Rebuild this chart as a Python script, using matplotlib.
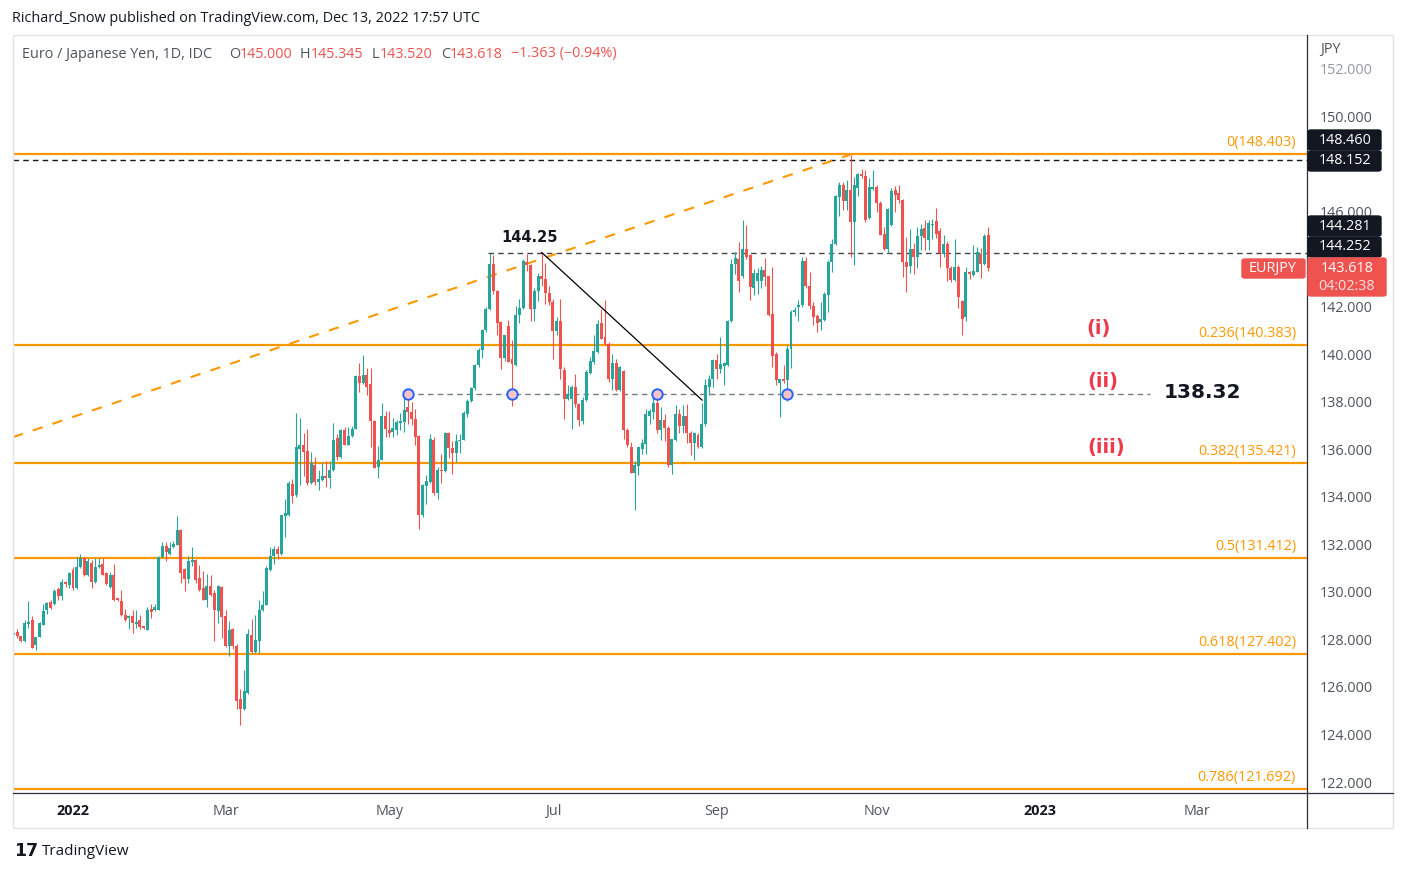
import numpy as np
import pandas as pd
import matplotlib
matplotlib.use('Agg')
import matplotlib.pyplot as plt
from matplotlib.patches import Rectangle, FancyBboxPatch

plt.rcParams['font.family'] = ['Open Sans', 'DejaVu Sans']

# EURJPY daily candles, 10 Dec 2021 -> 13 Dec 2022
first_day = '2021-12-10'

opens = [
    # Dec 2021
    128.20, 128.33, 128.13, 127.92, 128.66, 128.83, 127.75, 128.12, 128.62, 129.22, 129.58, 129.49, 130.14, 129.81, 130.43, 130.30,
    # Jan 2022
    130.94, 130.15, 131.05, 131.41, 130.70, 131.22, 130.40, 131.03, 131.19, 130.81, 130.19, 130.72, 129.74, 129.63, 129.03, 128.89, 128.99, 128.65, 128.83, 128.55, 128.41,
    # Feb
    129.29, 129.22, 129.25, 131.47, 131.95, 131.61, 131.87, 131.97, 132.59, 130.95, 130.54, 131.24, 131.35, 130.57, 130.15, 129.68, 130.23, 129.95, 129.18, 130.19,
    # Mar
    128.97, 127.71, 128.42, 127.71, 125.48, 125.09, 125.75, 128.17, 127.47, 127.93, 129.22, 129.47, 130.91, 131.49, 131.79, 131.58, 133.18, 133.22, 134.52, 134.06, 136.02, 136.16, 135.91,
    # Apr
    134.58, 135.32, 134.62, 134.72, 134.86, 134.79, 135.11, 136.46, 135.67, 136.83, 136.20, 136.58, 136.86, 139.07, 138.78, 139.11, 138.76, 137.21, 135.25, 135.57, 137.38,
    # May
    136.82, 136.72, 136.83, 137.10, 137.14, 137.77, 137.56, 137.26, 136.58, 133.22, 134.44, 134.62, 136.40, 134.16, 135.14, 135.07, 136.68, 136.06, 135.84, 136.33, 136.40, 137.50,
    # Jun
    138.05, 138.57, 139.53, 140.19, 141.00, 141.91, 143.78, 142.66, 141.35, 139.85, 141.17, 139.81, 139.53, 141.63, 141.94, 143.87, 143.76, 141.91, 142.68, 143.31, 143.17, 142.57,
    # Jul
    142.19, 140.97, 141.39, 139.35, 138.13, 138.13, 138.62, 137.89, 137.21, 138.08, 139.20, 139.67, 140.09, 141.31, 140.72, 140.44, 138.97, 139.63, 138.48, 139.29, 136.83,
    # Aug
    136.09, 135.01, 135.28, 136.02, 136.23, 137.40, 137.56, 137.94, 136.82, 137.24, 136.90, 135.32, 136.40, 137.47, 137.00, 137.38, 136.68, 136.26, 136.62, 136.09, 137.05, 138.62, 138.97,
    # Sep
    139.77, 139.39, 139.50, 139.53, 141.38, 143.80, 144.02, 143.27, 144.44, 144.16, 142.79, 143.08, 143.08, 143.55, 143.27, 141.70, 140.02, 138.78, 138.97, 138.90, 140.23, 141.77,
    # Oct
    141.98, 142.05, 143.94, 142.89, 142.01, 141.59, 141.34, 141.45, 142.50, 143.86, 144.63, 146.61, 147.13, 146.43, 146.89, 145.58, 147.00, 147.59, 147.50, 145.72, 146.95,
    # Nov
    147.02, 146.36, 145.06, 144.42, 145.44, 146.92, 146.78, 146.50, 143.86, 143.70, 144.43, 144.07, 144.98, 145.30, 144.81, 145.44, 145.61, 145.19, 144.22, 144.65, 143.62, 143.13,
    # Dec
    143.69, 142.25, 141.55, 143.45, 143.34, 143.48, 144.22, 143.79, 145.000,
]

highs = [
    128.33, 128.45, 128.16, 128.83, 129.63, 129.00, 128.09, 128.72, 129.50, 129.56, 129.67, 130.14, 130.19, 130.56, 130.47, 130.85,
    131.05, 131.48, 131.61, 131.45, 131.41, 131.36, 131.41, 131.41, 131.41, 130.85, 130.85, 131.17, 129.76, 130.09, 129.30, 129.03, 129.22, 129.22, 129.04, 128.57, 129.36,
    129.48, 129.48, 131.50, 132.11, 132.11, 132.09, 132.13, 133.18, 132.63, 131.00, 131.49, 131.87, 131.38, 131.12, 130.86, 130.74, 130.70, 130.09, 130.27, 130.25,
    129.22, 128.76, 128.47, 127.79, 125.93, 126.70, 128.42, 128.84, 129.01, 129.67, 130.02, 131.09, 131.89, 131.93, 131.95, 133.25, 133.89, 134.66, 134.73, 137.52, 137.31, 136.68, 136.85,
    135.88, 135.67, 135.14, 135.46, 135.49, 135.49, 137.10, 136.65, 136.86, 136.93, 136.93, 137.00, 139.11, 139.64, 139.98, 139.43, 139.43, 137.25, 136.12, 137.96, 137.63,
    137.63, 137.33, 137.24, 137.54, 138.20, 138.31, 138.01, 137.70, 136.60, 134.55, 134.90, 136.65, 136.50, 135.25, 135.81, 136.72, 136.72, 136.37, 136.65, 136.65, 137.63, 138.13,
    138.62, 139.60, 140.27, 141.07, 141.98, 144.25, 144.17, 142.70, 141.40, 140.80, 141.45, 140.61, 142.01, 142.33, 144.01, 144.23, 143.80, 142.78, 143.43, 144.28, 143.83, 142.85,
    142.33, 141.56, 142.33, 139.47, 138.69, 138.69, 139.15, 137.95, 138.20, 139.32, 139.88, 140.79, 141.42, 141.91, 142.29, 140.50, 140.02, 139.81, 139.50, 139.35, 136.90,
    136.30, 135.50, 136.10, 136.44, 137.70, 137.70, 138.27, 138.35, 137.77, 137.47, 137.00, 136.45, 137.85, 137.68, 137.85, 137.91, 136.75, 136.73, 136.70, 137.94, 138.97, 139.11, 139.81,
    139.99, 140.72, 139.67, 141.45, 144.02, 144.30, 144.72, 145.63, 145.42, 144.20, 143.59, 143.62, 143.70, 144.04, 143.30, 143.69, 140.10, 138.97, 139.53, 140.37, 141.87, 141.98,
    142.29, 144.09, 144.09, 143.45, 142.20, 141.70, 142.19, 142.60, 143.97, 144.85, 146.71, 147.23, 147.23, 147.34, 148.40, 147.45, 147.62, 147.79, 147.73, 147.41, 147.76,
    147.13, 146.43, 145.35, 146.15, 147.01, 147.06, 147.13, 146.55, 144.93, 145.26, 144.70, 145.35, 145.49, 145.65, 145.65, 145.68, 146.15, 145.30, 145.02, 144.75, 143.70, 144.85,
    143.76, 142.30, 143.65, 143.50, 144.60, 144.53, 144.46, 145.05, 145.345,
]

lows = [
    127.85, 128.05, 127.91, 127.91, 128.48, 127.63, 127.54, 128.09, 128.59, 129.08, 129.29, 129.43, 129.65, 129.65, 130.19, 130.15,
    130.07, 130.12, 131.01, 130.65, 130.65, 130.18, 130.37, 130.99, 130.71, 130.29, 130.16, 129.63, 129.62, 129.00, 128.78, 128.43, 128.26, 128.48, 128.43, 128.44, 128.38,
    128.90, 129.20, 129.24, 131.43, 131.30, 131.57, 131.83, 131.96, 130.37, 130.04, 130.37, 131.09, 130.37, 130.04, 129.64, 129.36, 129.81, 127.93, 128.69, 128.06,
    127.68, 127.30, 127.60, 125.09, 124.40, 125.05, 125.72, 127.44, 127.45, 127.43, 129.20, 129.45, 130.88, 131.16, 131.37, 131.55, 132.31, 133.20, 133.74, 134.00, 134.48, 134.86, 134.48,
    134.55, 134.48, 134.30, 134.68, 134.41, 134.38, 135.09, 135.53, 135.62, 136.18, 136.18, 136.51, 136.84, 138.41, 138.76, 138.27, 136.09, 135.21, 134.79, 135.55, 136.51,
    136.51, 136.51, 136.61, 136.83, 136.72, 137.07, 137.03, 136.16, 132.66, 133.15, 133.71, 134.60, 134.06, 133.92, 134.58, 135.05, 135.64, 134.98, 135.46, 135.84, 136.38, 137.35,
    138.00, 138.50, 139.45, 139.85, 140.95, 141.85, 142.55, 140.79, 139.39, 139.71, 139.66, 137.84, 139.50, 141.31, 141.90, 143.52, 141.39, 141.39, 142.26, 142.85, 142.12, 142.05,
    139.81, 140.79, 138.97, 137.28, 138.08, 136.86, 137.77, 137.00, 137.07, 138.05, 139.15, 139.60, 140.05, 140.62, 140.40, 138.83, 138.48, 138.45, 138.45, 136.44, 136.10,
    135.00, 133.43, 134.90, 135.81, 135.80, 137.07, 137.28, 136.68, 136.40, 136.37, 135.25, 134.97, 136.35, 136.68, 136.68, 136.26, 135.74, 135.53, 136.05, 136.05, 137.00, 138.27, 138.62,
    138.97, 139.20, 138.69, 139.50, 141.35, 143.38, 142.61, 143.20, 144.00, 142.29, 142.51, 142.54, 142.80, 142.89, 141.60, 139.46, 138.69, 137.35, 138.80, 138.05, 139.43, 141.60,
    141.39, 142.00, 142.80, 141.91, 141.21, 140.93, 141.00, 141.40, 141.76, 143.48, 144.60, 145.82, 146.08, 146.08, 144.11, 143.76, 146.64, 147.40, 145.58, 145.68, 146.90,
    146.00, 145.00, 144.37, 144.25, 145.40, 146.00, 146.36, 143.23, 142.60, 143.41, 143.37, 143.62, 144.39, 144.39, 144.39, 144.84, 144.88, 143.69, 144.11, 143.06, 143.02, 143.10,
    141.94, 140.79, 141.38, 143.16, 143.27, 143.45, 143.20, 143.75, 143.520,
]

closes = [
    128.27, 128.13, 127.92, 128.69, 128.72, 127.64, 128.09, 128.69, 129.18, 129.53, 129.32, 130.05, 129.81, 130.43, 130.32, 130.81,
    130.18, 131.05, 131.41, 130.70, 131.29, 130.40, 131.05, 131.13, 130.72, 130.32, 130.72, 129.65, 129.65, 129.01, 128.80, 128.99, 128.68, 128.75, 128.52, 128.48, 129.25,
    129.17, 129.36, 131.47, 131.95, 131.68, 131.86, 132.00, 132.62, 130.79, 130.54, 131.28, 131.35, 130.49, 130.06, 129.66, 130.23, 129.85, 129.22, 130.23, 128.94,
    127.71, 128.38, 127.71, 125.41, 125.09, 125.82, 128.21, 127.47, 127.96, 129.26, 129.47, 131.00, 131.49, 131.79, 131.58, 133.22, 133.32, 134.58, 134.02, 136.09, 136.19, 135.88, 134.58,
    135.42, 134.62, 134.73, 134.86, 134.79, 135.15, 136.40, 135.67, 136.83, 136.20, 136.58, 136.86, 139.07, 138.78, 139.11, 138.64, 137.19, 135.23, 135.57, 137.38, 136.86,
    136.68, 136.89, 137.14, 137.17, 137.66, 137.56, 137.26, 136.51, 133.22, 134.48, 134.65, 136.44, 134.16, 135.14, 135.07, 136.68, 136.06, 135.84, 136.33, 136.41, 137.54, 138.05,
    138.57, 139.53, 140.19, 141.00, 141.91, 143.78, 142.66, 141.31, 139.85, 140.79, 139.67, 139.57, 141.63, 141.94, 143.94, 143.76, 141.91, 142.68, 143.27, 143.17, 142.57, 142.19,
    140.97, 141.39, 139.39, 138.13, 138.34, 138.62, 137.89, 137.24, 138.08, 139.25, 139.71, 140.13, 141.28, 140.65, 140.44, 138.97, 139.63, 138.48, 139.46, 136.83, 136.16,
    135.01, 135.36, 136.09, 136.26, 137.49, 137.60, 137.96, 136.80, 137.24, 136.90, 135.32, 136.44, 137.47, 137.00, 137.42, 136.68, 136.26, 136.68, 136.09, 137.05, 138.69, 138.97, 139.74,
    139.39, 139.60, 139.63, 141.38, 143.80, 144.06, 143.10, 144.44, 144.11, 142.82, 143.41, 143.41, 143.55, 143.24, 141.67, 139.92, 138.90, 138.97, 138.87, 140.23, 141.77, 141.87,
    142.05, 143.94, 142.89, 142.01, 141.56, 141.31, 141.49, 142.54, 143.90, 144.65, 146.64, 147.13, 146.43, 146.92, 145.58, 147.13, 147.59, 147.50, 145.65, 147.02, 147.02,
    146.36, 145.02, 144.42, 146.10, 146.85, 146.71, 146.50, 143.86, 143.65, 144.43, 144.07, 144.98, 145.26, 144.88, 145.51, 145.49, 145.07, 144.25, 144.65, 143.62, 143.13, 143.65,
    142.39, 141.49, 143.45, 143.37, 143.51, 144.32, 143.79, 144.981, 143.618,
]

# fibonacci retracement levels
fib_ratios = ['0', '0.236', '0.382', '0.5', '0.618', '0.786']
fib_levels = [148.403, 140.383, 135.421, 131.412, 127.402, 121.692]

# other drawn levels
level_top = 148.152
level_high = 144.252
level_support = 138.32
support_touch_dates = ['2022-05-09', '2022-06-16', '2022-08-10', '2022-09-28']

price_ticks = [122, 124, 126, 128, 130, 132, 134, 136, 138, 140, 142, 146, 150, 152]

W, H = 1405, 872
RED = '#ef5350'
GREEN = '#26a69a'
ORANGE = '#ff9800'
DARK = '#131722'
GREY = '#50535e'
FS = 10.4

o = np.array(opens)
h = np.array(highs)
l = np.array(lows)
c = np.array(closes)
x = np.arange(len(c))

# axis calendar extends past the last bar (future space on the right)
cal = pd.bdate_range(first_day, '2023-03-31')


def bar_pos(d):
    return int(cal.get_indexer([pd.Timestamp(d)])[0])


fig = plt.figure(figsize=(W / 100, H / 100), dpi=100)
fig.patch.set_facecolor('white')
ax = fig.add_axes([13 / W, 1 - 793 / H, 1294 / W, 758 / H])
ax.set_xlim(-0.13, 347.7)
ax.set_ylim(121.54, 153.43)
for s in ax.spines.values():
    s.set_visible(False)

# candles
up = c >= o
cols = np.where(up, GREEN, RED)
ax.vlines(x, l, h, colors=cols, lw=0.8, zorder=3)
ax.bar(x, np.maximum(np.abs(c - o), 0.04), bottom=np.minimum(o, c), width=0.8,
       color=cols, linewidth=0, zorder=3)

# fib lines + labels
for r, lv in zip(fib_ratios, fib_levels):
    ax.axhline(lv, color=ORANGE, lw=1.6, zorder=2)
    ax.annotate(f'{r}({lv:.3f})', xy=(1, lv), xycoords=('axes fraction', 'data'),
                xytext=(-11, 4), textcoords='offset pixels', ha='right', va='bottom',
                color=ORANGE, fontsize=FS)

# dashed horizontal levels
ax.axhline(level_top, color=DARK, lw=1, ls=(0, (4, 3)), zorder=2)
ax.plot([bar_pos('2022-06-08') - 0.5, 347.7], [level_high, level_high], color='#444444',
        lw=1, ls=(0, (4, 3)), zorder=2)
ax.plot([bar_pos('2022-05-09'), 305.5], [level_support, level_support], color='#787b86',
        lw=1, ls=(0, (4, 3)), zorder=2)
tx = [bar_pos(d) for d in support_touch_dates]
ax.plot(tx, [level_support] * len(tx), ls='none', marker='o', ms=7.5, mfc='#f5c4c8',
        mec='#2962ff', mew=1.4, zorder=6)

# rising trend line (orange dashed) and falling line (black)
ax.plot([-0.13, bar_pos('2022-10-21')], [136.51, 148.40], color=ORANGE, lw=1.5,
        ls=(0, (5, 5)), zorder=2)
ax.plot([bar_pos('2022-06-28'), 185.1], [144.28, 138.07], color='black', lw=0.9, zorder=4)

# annotations
ax.text(138.6, 144.93, '144.25', ha='center', va='center', fontsize=10.5,
        fontweight='bold', color=DARK, family='DejaVu Sans')
ax.text(319.5, 138.41, '138.32', ha='center', va='center', fontsize=14.5,
        fontweight='bold', color=DARK, family='DejaVu Sans')
for lab, xx, yy in [('(i)', 291.8, 141.10), ('(ii)', 292.9, 138.87), ('(iii)', 293.7, 136.09)]:
    ax.text(xx, yy, lab, ha='center', va='center', fontsize=14, fontweight='bold',
            color='#f0384b', family='DejaVu Sans')

# time axis
tick_pos, tick_lab = [], []
for d in cal:
    if d.year < 2022:
        continue
    i = bar_pos(d)
    if d.month % 2 == 1 and cal[i - 1].month != d.month:
        tick_pos.append(i)
        tick_lab.append(str(d.year) if d.month == 1 else d.strftime('%b'))
ax.set_xticks(tick_pos)
ax.set_xticklabels(tick_lab)
for t in ax.get_xticklabels():
    if t.get_text().isdigit():
        t.set_fontweight('bold')
        t.set_color(DARK)
    else:
        t.set_color(GREY)
ax.tick_params(axis='x', length=0, pad=8, labelsize=FS)

# price axis
ax.yaxis.tick_right()
ax.set_yticks(price_ticks)
ax.set_yticklabels([f'{p:.3f}' for p in price_ticks])
ax.tick_params(axis='y', length=0, pad=9, labelsize=FS, labelcolor=GREY)
ax.get_yticklabels()[-1].set_color('#9598a1')


def px_rect(x0, y0, x1, y1, **kw):
    fig.add_artist(Rectangle((x0 / W, 1 - y1 / H), (x1 - x0) / W, (y1 - y0) / H,
                             transform=fig.transFigure, **kw))


def px_box(x0, y0, x1, y1, color):
    fig.add_artist(FancyBboxPatch((x0 / W, 1 - y1 / H), (x1 - x0) / W, (y1 - y0) / H,
                                  boxstyle='round,pad=0,rounding_size=0.002',
                                  transform=fig.transFigure, color=color, zorder=5))


def px_text(xp, yp, s, **kw):
    return fig.text(xp / W, 1 - yp / H, s, **kw)


# frames
px_rect(13, 35, 1393, 828, fill=False, edgecolor='#e0e3eb', lw=1, zorder=1)
fig.add_artist(plt.Line2D([1307 / W, 1307 / W], [1 - 35 / H, 1 - 828 / H], color='#2a2e39',
                          lw=0.9, transform=fig.transFigure))
fig.add_artist(plt.Line2D([13 / W, 1393 / W], [1 - 793 / H, 1 - 793 / H], color='#2a2e39',
                          lw=0.9, transform=fig.transFigure))

# price labels on the axis
for y0, lab in [(130, '148.460'), (151, '148.152'), (216, '144.281'), (237, '144.252')]:
    px_box(1308, y0, 1381, y0 + 20, DARK)
    px_text(1345, y0 + 10, lab, color='white', fontsize=FS, ha='center', va='center', zorder=6)
px_box(1308, 258, 1386, 296, RED)
px_text(1347, 268, f'{closes[-1]:.3f}', color='white', fontsize=FS, ha='center', va='center', zorder=6)
px_text(1347, 286, '04:02:38', color='#fde0e0', fontsize=FS, ha='center', va='center', zorder=6)
px_box(1242, 259, 1305, 278, RED)
px_text(1273, 268.5, 'EURJPY', color='white', fontsize=FS, ha='center', va='center', zorder=6)
px_text(1320, 50, 'JPY', color=GREY, fontsize=FS, ha='left', va='center')

# header and legend
px_text(12, 19, 'Richard_Snow published on TradingView.com, Dec 13, 2022 17:57 UTC',
        color=DARK, fontsize=FS, va='center')
px_text(22, 54, 'Euro / Japanese Yen, 1D, IDC', color=GREY, fontsize=FS, va='center')
for xp, k, v in [(229, 'O', opens[-1]), (300, 'H', highs[-1]), (372, 'L', lows[-1]),
                 (441, 'C', closes[-1])]:
    t = px_text(xp, 54, k, color=GREY, fontsize=FS, va='center')
    ax.annotate(f'{v:.3f}', xy=(1, 0.5), xycoords=t, va='center', ha='left',
                color=RED, fontsize=FS, annotation_clip=False)
chg = closes[-1] - closes[-2]
px_text(511, 54, f'\u2212{abs(chg):.3f} (\u2212{abs(chg) / closes[-2] * 100:.2f}%)',
        color=RED, fontsize=FS, va='center')

# logo
px_text(14, 851, '17', color=DARK, fontsize=12.5, fontweight='bold', va='center',
        family='DejaVu Sans')
px_text(42, 851, 'TradingView', color=DARK, fontsize=11, va='center')

fig.savefig('out.png', dpi=100)
